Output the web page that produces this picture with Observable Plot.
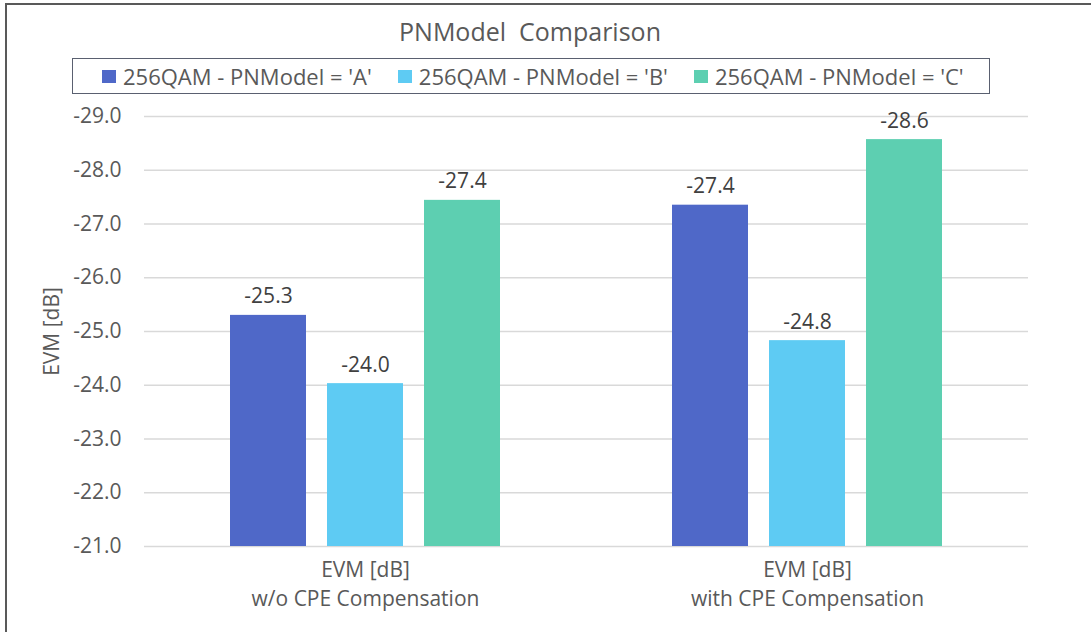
<!DOCTYPE html>
<html>
<head>
<meta charset="utf-8">
<script src="https://cdn.jsdelivr.net/npm/d3@7"></script>
<script src="https://cdn.jsdelivr.net/npm/@observablehq/plot@0.6"></script>
<style>
  html, body { margin: 0; padding: 0; background: #fff; overflow: hidden; }
  body { width: 1091px; height: 632px; position: relative; font-family: 'Open Sans', sans-serif; }
  #frame { position: absolute; left: 5px; top: 3px; width: 1084px; height: 627px; border-top: 2px solid #595959; border-left: 2px solid #595959; }
  #title { position: absolute; left: 0; top: 19px; width: 1060px; text-align: center; font-size: 25px; line-height: 25px; color: #595959; white-space: pre; }
  #legend { position: absolute; left: 72px; top: 58px; width: 887px; height: 34px; border: 1px solid #5a6070; display: flex; align-items: center; padding-left: 29px; box-sizing: content-box; }
  .item { display: flex; align-items: center; margin-right: 26px; }
  .sw { width: 14px; height: 13px; margin-right: 7px; }
  .lab { font-size: 22px; line-height: 22px; color: #595959; white-space: pre; }
  #chart { position: absolute; left: 0; top: 100px; }
</style>
</head>
<body>
<div id="frame"></div>
<div id="title"></div>
<div id="legend"></div>
<div id="chart"></div>
<script>
const titleText = "PNModel  Comparison";
const groups = ["EVM [dB]\nw/o CPE Compensation", "EVM [dB]\nwith CPE Compensation"];
const series = ["256QAM - PNModel = 'A'", "256QAM - PNModel = 'B'", "256QAM - PNModel = 'C'"];
const valuesA = [-25.3, -27.35];
const valuesB = [-24.03, -24.83];
const valuesC = [-27.44, -28.57];
const colors = ["#4F68C8", "#5ECBF3", "#5DCFB1"];
const yTicks = [-29, -28, -27, -26, -25, -24, -23, -22, -21];
const yDomain = [-21, -29];
const baseline = -21;
const yLabel = "EVM [dB]";

const seriesValues = [valuesA, valuesB, valuesC];
const data = [];
groups.forEach((g, gi) => {
  series.forEach((s, si) => data.push({group: g, series: s, value: seriesValues[si][gi]}));
});
const fmt = v => v.toFixed(1);

document.getElementById("title").textContent = titleText;
const legend = d3.select("#legend");
series.forEach((s, i) => {
  const it = legend.append("div").attr("class", "item");
  it.append("div").attr("class", "sw").style("background", colors[i]);
  it.append("div").attr("class", "lab").text(s);
});

const chart = Plot.plot({
  width: 1091,
  height: 532,
  marginTop: 16,
  marginBottom: 86,
  marginLeft: 143,
  marginRight: 63,
  style: {fontFamily: "'Open Sans', sans-serif", fontSize: "21px", color: "#595959", background: "transparent", overflow: "visible"},
  fx: {domain: groups, padding: 0, label: null},
  x: {domain: series, paddingInner: 0.2143, paddingOuter: 0.865, axis: null},
  y: {domain: yDomain, ticks: yTicks},
  color: {domain: series, range: colors},
  marks: [
    Plot.ruleY(yTicks, {stroke: "#d9d9d9", strokeWidth: 1.3}),
    Plot.barY(data, {fx: "group", x: "series", y1: baseline, y2: "value", fill: "series"}),
    Plot.text(data, {fx: "group", x: "series", y: "value", text: d => fmt(d.value), lineAnchor: "bottom", dy: -12, fill: "#404040", fontSize: 21}),
    Plot.axisY({ticks: yTicks, tickFormat: fmt, tickSize: 0, tickPadding: 23, fontSize: 21, label: yLabel, labelAnchor: "center", labelOffset: 100, labelArrow: "none"}),
    Plot.axisFx({anchor: "bottom", tickSize: 0, tickPadding: 10, fontSize: 21, lineHeight: 1.38, label: null})
  ]
});
document.getElementById("chart").appendChild(chart);
</script>
</body>
</html>
